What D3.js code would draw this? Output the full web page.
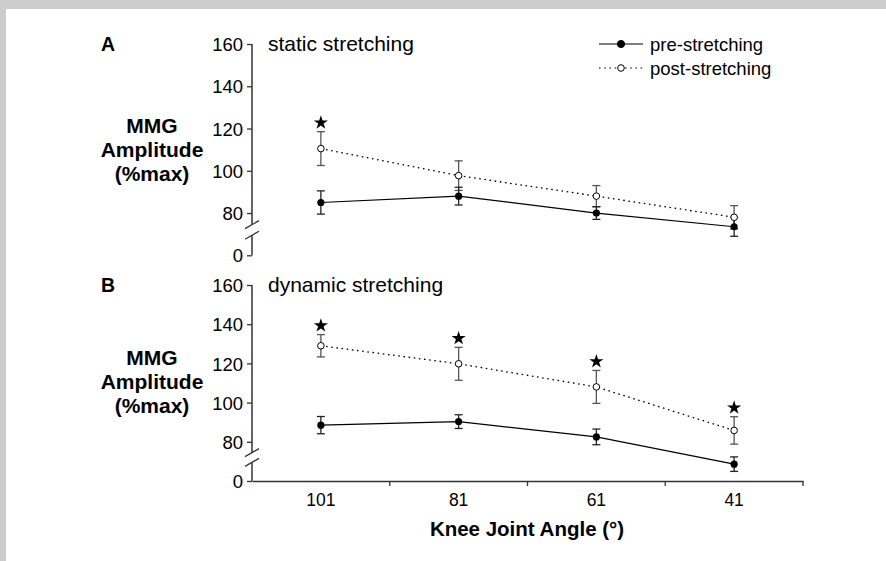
<!DOCTYPE html>
<html><head><meta charset="utf-8">
<script src="https://cdn.jsdelivr.net/npm/d3@7"></script>
<style>
html,body{margin:0;padding:0;background:#fff;}
svg text{font-family:"Liberation Sans",Arial,sans-serif;fill:#000;}
</style></head>
<body>
<script>
// ---- data ----
const categories = ["101", "81", "61", "41"];
const yTickValues = [60, 80, 100, 120, 140, 160];
const yTickLabels = ["0", "80", "100", "120", "140", "160"];
const staticPre = [85, 88, 80, 73.5];
const staticPreErr = [5.5, 4.2, 3, 4.5];
const staticPost = [110.5, 97.7, 88, 78];
const staticPostErr = [8, 7, 5, 5.5];
const dynamicPre = [88.5, 90.3, 82.5, 68.6];
const dynamicPreErr = [4.4, 3.5, 4, 3.7];
const dynamicPost = [129, 119.8, 108, 85.8];
const dynamicPostErr = [5.7, 8.4, 8.4, 7];
const staticSig = [true, false, false, false];
const dynamicSig = [true, true, true, true];
const panelLetters = ["A", "B"];
const panelTitles = ["static stretching", "dynamic stretching"];
const seriesNames = ["pre-stretching", "post-stretching"];

const W = 886, H = 561;
const svg = d3.select("body").append("svg").attr("width", W).attr("height", H);
svg.append("rect").attr("width", W).attr("height", H).attr("fill", "#cccccc");
svg.append("rect").attr("x", 6).attr("y", 9).attr("width", W - 6).attr("height", H - 9).attr("fill", "#fff");

const x = d3.scaleBand().domain(categories).range([252, 803]);
const axisColor = "#333";

const panels = [
  {letter: panelLetters[0], title: panelTitles[0], pre: staticPre, preErr: staticPreErr, post: staticPost, postErr: staticPostErr, sig: staticSig, range: [255.3, 44], xAxis: false},
  {letter: panelLetters[1], title: panelTitles[1], pre: dynamicPre, preErr: dynamicPreErr, post: dynamicPost, postErr: dynamicPostErr, sig: dynamicSig, range: [481, 285], xAxis: true}
];

panels.forEach(p => {
  const y = d3.scaleLinear().domain([60, 160]).range(p.range);
  const g = svg.append("g");
  // y axis
  const yAxis = d3.axisLeft(y).tickValues(yTickValues).tickFormat((d, i) => yTickLabels[i]).tickSize(5).tickPadding(4);
  const ya = g.append("g").attr("transform", "translate(252,0)").call(yAxis);
  ya.select(".domain").remove();
  ya.selectAll(".tick line").attr("stroke", axisColor).attr("stroke-width", 1.3);
  ya.selectAll(".tick text").style("font-size", "18.5px").attr("dy", "0.36em");
  // axis line with break
  const yb1 = y(74.5), yb2 = y(69.5);
  g.append("line").attr("x1", 252).attr("x2", 252).attr("y1", y(160)).attr("y2", yb1).attr("stroke", axisColor).attr("stroke-width", 1.5);
  g.append("line").attr("x1", 252).attr("x2", 252).attr("y1", yb2).attr("y2", y(60)).attr("stroke", axisColor).attr("stroke-width", 1.5);
  [yb1, yb2].forEach(yy => {
    g.append("line").attr("x1", 245).attr("x2", 259).attr("y1", yy + 4).attr("y2", yy - 4).attr("stroke", axisColor).attr("stroke-width", 1.3);
  });
  if (p.xAxis) {
    const xa = g.append("g").attr("transform", `translate(0,${y(60)})`).call(d3.axisBottom(x).tickSize(0).tickPadding(13));
    xa.select(".domain").attr("stroke", axisColor).attr("stroke-width", 1.5);
    xa.selectAll(".tick text").style("font-size", "17.5px");
    const bounds = categories.map(c => x(c) + x.bandwidth());
    g.selectAll(".btick").data(bounds).join("line")
      .attr("x1", d => d).attr("x2", d => d).attr("y1", y(60)).attr("y2", y(60) + 5)
      .attr("stroke", axisColor).attr("stroke-width", 1.3);
  }
  // labels
  g.append("text").attr("x", 101).attr("y", p.range[1] + 7).style("font-size", "19.5px").style("font-weight", "bold").text(p.letter);
  g.append("text").attr("x", 268).attr("y", p.range[1] + 7).style("font-size", "21px").text(p.title);
  const ylab = g.append("text").attr("text-anchor", "middle").style("font-size", "21px").style("font-weight", "bold");
  const base = y(100) - 38;
  ["MMG", "Amplitude", "(%max)"].forEach((t, i) => {
    ylab.append("tspan").attr("x", 152).attr("y", base + i * 24.3).text(t);
  });

  const cx = c => x(c) + x.bandwidth() / 2;
  const line = d3.line().x((d, i) => cx(categories[i])).y(d => y(d));
  g.append("path").datum(p.post).attr("d", line).attr("fill", "none").attr("stroke", "#000").attr("stroke-width", 1.3).attr("stroke-dasharray", "1.6,3.6");
  g.append("path").datum(p.pre).attr("d", line).attr("fill", "none").attr("stroke", "#000").attr("stroke-width", 1.2);
  const drawErr = (vals, errs, color) => {
    vals.forEach((v, i) => {
      const xx = cx(categories[i]);
      const e = errs[i];
      g.append("line").attr("x1", xx).attr("x2", xx).attr("y1", y(v + e)).attr("y2", y(v - e)).attr("stroke", color).attr("stroke-width", 1.3);
      [v + e, v - e].forEach(yv => {
        g.append("line").attr("x1", xx - 4).attr("x2", xx + 4).attr("y1", y(yv)).attr("y2", y(yv)).attr("stroke", color).attr("stroke-width", 1.3);
      });
    });
  };
  drawErr(p.post, p.postErr, "#555");
  drawErr(p.pre, p.preErr, "#222");
  g.selectAll(".pre").data(p.pre).join("circle").attr("cx", (d, i) => cx(categories[i])).attr("cy", d => y(d)).attr("r", 3.6).attr("fill", "#000");
  g.selectAll(".post").data(p.post).join("circle").attr("cx", (d, i) => cx(categories[i])).attr("cy", d => y(d)).attr("r", 3.3).attr("fill", "#fff").attr("stroke", "#000").attr("stroke-width", 1);
  p.sig.forEach((s, i) => {
    if (!s) return;
    const top = y(p.post[i] + p.postErr[i]);
    g.append("path").attr("d", d3.symbol(d3.symbolStar, 62)())
      .attr("transform", `translate(${cx(categories[i])},${top - 9})`).attr("fill", "#000");
  });
});

// legend
const lg = svg.append("g");
[0, 1].forEach(i => {
  const ly = 44 + i * 24;
  lg.append("line").attr("x1", 599).attr("x2", 643).attr("y1", ly).attr("y2", ly).attr("stroke", "#000").attr("stroke-width", 1.2)
    .attr("stroke-dasharray", i === 1 ? "1.6,3.6" : null);
  lg.append("circle").attr("cx", 621).attr("cy", ly).attr("r", i === 0 ? 3.6 : 3.3)
    .attr("fill", i === 0 ? "#000" : "#fff").attr("stroke", "#000").attr("stroke-width", 1);
  lg.append("text").attr("x", 650).attr("y", ly + 6.5).style("font-size", "18.5px").text(seriesNames[i]);
});

svg.append("text").attr("x", 527).attr("y", 536).attr("text-anchor", "middle").style("font-size", "20.5px").style("font-weight", "bold").text("Knee Joint Angle (°)");
</script>
</body></html>
